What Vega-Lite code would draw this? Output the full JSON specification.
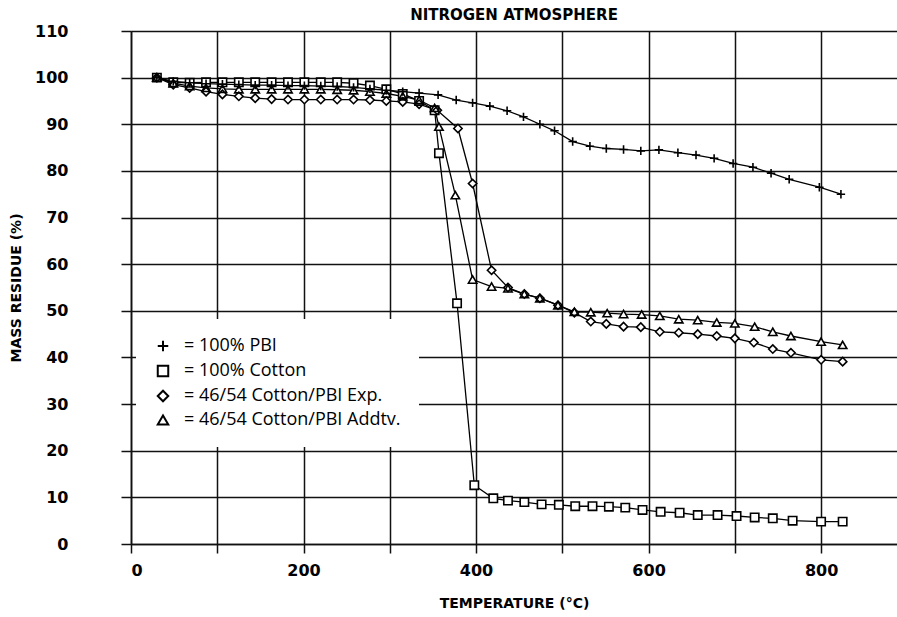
{
  "$schema": "https://vega.github.io/schema/vega-lite/v6.json",
  "width": 766,
  "height": 513,
  "autosize": "none",
  "padding": {"left": 131, "top": 31, "right": 0, "bottom": 73},
  "background": "white",
  "title": {"text": "NITROGEN ATMOSPHERE", "font": "DejaVu Sans", "fontSize": 15, "fontWeight": "bold", "color": "black", "anchor": "middle", "offset": 0},
  "config": {"view": {"stroke": null}},
  "datasets": {
    "tga": [
      {"series": "100% PBI", "temp": 30, "mass": 100},
      {"series": "100% PBI", "temp": 49, "mass": 99.2},
      {"series": "100% PBI", "temp": 68, "mass": 98.9},
      {"series": "100% PBI", "temp": 87, "mass": 98.7},
      {"series": "100% PBI", "temp": 106, "mass": 98.6},
      {"series": "100% PBI", "temp": 125, "mass": 98.5},
      {"series": "100% PBI", "temp": 144, "mass": 98.4},
      {"series": "100% PBI", "temp": 163, "mass": 98.4},
      {"series": "100% PBI", "temp": 182, "mass": 98.3},
      {"series": "100% PBI", "temp": 201, "mass": 98.3},
      {"series": "100% PBI", "temp": 220, "mass": 98.2},
      {"series": "100% PBI", "temp": 239, "mass": 98.1},
      {"series": "100% PBI", "temp": 258, "mass": 97.9},
      {"series": "100% PBI", "temp": 277, "mass": 97.6},
      {"series": "100% PBI", "temp": 296, "mass": 97.3},
      {"series": "100% PBI", "temp": 315, "mass": 97.0},
      {"series": "100% PBI", "temp": 334, "mass": 96.7},
      {"series": "100% PBI", "temp": 356, "mass": 96.3},
      {"series": "100% PBI", "temp": 377, "mass": 95.2},
      {"series": "100% PBI", "temp": 396, "mass": 94.6},
      {"series": "100% PBI", "temp": 416, "mass": 93.9},
      {"series": "100% PBI", "temp": 436, "mass": 92.9},
      {"series": "100% PBI", "temp": 455, "mass": 91.6},
      {"series": "100% PBI", "temp": 474, "mass": 90.0},
      {"series": "100% PBI", "temp": 491, "mass": 88.6},
      {"series": "100% PBI", "temp": 512, "mass": 86.3},
      {"series": "100% PBI", "temp": 532, "mass": 85.3},
      {"series": "100% PBI", "temp": 551, "mass": 84.8},
      {"series": "100% PBI", "temp": 571, "mass": 84.6},
      {"series": "100% PBI", "temp": 591, "mass": 84.3},
      {"series": "100% PBI", "temp": 612, "mass": 84.5},
      {"series": "100% PBI", "temp": 634, "mass": 83.9},
      {"series": "100% PBI", "temp": 655, "mass": 83.4},
      {"series": "100% PBI", "temp": 676, "mass": 82.7},
      {"series": "100% PBI", "temp": 698, "mass": 81.6},
      {"series": "100% PBI", "temp": 721, "mass": 80.8},
      {"series": "100% PBI", "temp": 742, "mass": 79.5},
      {"series": "100% PBI", "temp": 763, "mass": 78.2},
      {"series": "100% PBI", "temp": 798, "mass": 76.5},
      {"series": "100% PBI", "temp": 823, "mass": 75.0},

      {"series": "100% Cotton", "temp": 30, "mass": 100},
      {"series": "100% Cotton", "temp": 49, "mass": 99.0},
      {"series": "100% Cotton", "temp": 68, "mass": 98.9},
      {"series": "100% Cotton", "temp": 87, "mass": 99.0},
      {"series": "100% Cotton", "temp": 106, "mass": 99.0},
      {"series": "100% Cotton", "temp": 125, "mass": 99.0},
      {"series": "100% Cotton", "temp": 144, "mass": 99.0},
      {"series": "100% Cotton", "temp": 163, "mass": 99.0},
      {"series": "100% Cotton", "temp": 182, "mass": 99.0},
      {"series": "100% Cotton", "temp": 201, "mass": 99.0},
      {"series": "100% Cotton", "temp": 220, "mass": 99.0},
      {"series": "100% Cotton", "temp": 239, "mass": 99.0},
      {"series": "100% Cotton", "temp": 258, "mass": 98.8},
      {"series": "100% Cotton", "temp": 277, "mass": 98.3},
      {"series": "100% Cotton", "temp": 296, "mass": 97.5},
      {"series": "100% Cotton", "temp": 315, "mass": 96.5},
      {"series": "100% Cotton", "temp": 334, "mass": 95.0},
      {"series": "100% Cotton", "temp": 352, "mass": 93.0},
      {"series": "100% Cotton", "temp": 357, "mass": 83.8},
      {"series": "100% Cotton", "temp": 378, "mass": 51.6},
      {"series": "100% Cotton", "temp": 398, "mass": 12.6},
      {"series": "100% Cotton", "temp": 420, "mass": 9.8},
      {"series": "100% Cotton", "temp": 437, "mass": 9.3},
      {"series": "100% Cotton", "temp": 456, "mass": 9.0},
      {"series": "100% Cotton", "temp": 476, "mass": 8.5},
      {"series": "100% Cotton", "temp": 496, "mass": 8.4},
      {"series": "100% Cotton", "temp": 515, "mass": 8.1},
      {"series": "100% Cotton", "temp": 535, "mass": 8.1},
      {"series": "100% Cotton", "temp": 554, "mass": 8.0},
      {"series": "100% Cotton", "temp": 573, "mass": 7.8},
      {"series": "100% Cotton", "temp": 593, "mass": 7.3},
      {"series": "100% Cotton", "temp": 614, "mass": 6.9},
      {"series": "100% Cotton", "temp": 636, "mass": 6.7},
      {"series": "100% Cotton", "temp": 657, "mass": 6.2},
      {"series": "100% Cotton", "temp": 680, "mass": 6.2},
      {"series": "100% Cotton", "temp": 702, "mass": 6.0},
      {"series": "100% Cotton", "temp": 723, "mass": 5.7},
      {"series": "100% Cotton", "temp": 744, "mass": 5.5},
      {"series": "100% Cotton", "temp": 767, "mass": 5.0},
      {"series": "100% Cotton", "temp": 800, "mass": 4.8},
      {"series": "100% Cotton", "temp": 825, "mass": 4.8},

      {"series": "46/54 Cotton/PBI Exp.", "temp": 30, "mass": 100},
      {"series": "46/54 Cotton/PBI Exp.", "temp": 49, "mass": 98.5},
      {"series": "46/54 Cotton/PBI Exp.", "temp": 68, "mass": 97.8},
      {"series": "46/54 Cotton/PBI Exp.", "temp": 87, "mass": 97.0},
      {"series": "46/54 Cotton/PBI Exp.", "temp": 106, "mass": 96.4},
      {"series": "46/54 Cotton/PBI Exp.", "temp": 125, "mass": 96.0},
      {"series": "46/54 Cotton/PBI Exp.", "temp": 144, "mass": 95.6},
      {"series": "46/54 Cotton/PBI Exp.", "temp": 163, "mass": 95.4},
      {"series": "46/54 Cotton/PBI Exp.", "temp": 182, "mass": 95.3},
      {"series": "46/54 Cotton/PBI Exp.", "temp": 201, "mass": 95.3},
      {"series": "46/54 Cotton/PBI Exp.", "temp": 220, "mass": 95.3},
      {"series": "46/54 Cotton/PBI Exp.", "temp": 239, "mass": 95.3},
      {"series": "46/54 Cotton/PBI Exp.", "temp": 258, "mass": 95.3},
      {"series": "46/54 Cotton/PBI Exp.", "temp": 277, "mass": 95.2},
      {"series": "46/54 Cotton/PBI Exp.", "temp": 296, "mass": 95.0},
      {"series": "46/54 Cotton/PBI Exp.", "temp": 315, "mass": 94.8},
      {"series": "46/54 Cotton/PBI Exp.", "temp": 334, "mass": 94.3},
      {"series": "46/54 Cotton/PBI Exp.", "temp": 355, "mass": 93.0},
      {"series": "46/54 Cotton/PBI Exp.", "temp": 379, "mass": 89.1},
      {"series": "46/54 Cotton/PBI Exp.", "temp": 396, "mass": 77.3},
      {"series": "46/54 Cotton/PBI Exp.", "temp": 418, "mass": 58.7},
      {"series": "46/54 Cotton/PBI Exp.", "temp": 437, "mass": 55.0},
      {"series": "46/54 Cotton/PBI Exp.", "temp": 456, "mass": 53.6},
      {"series": "46/54 Cotton/PBI Exp.", "temp": 474, "mass": 52.7},
      {"series": "46/54 Cotton/PBI Exp.", "temp": 495, "mass": 51.2},
      {"series": "46/54 Cotton/PBI Exp.", "temp": 514, "mass": 49.6},
      {"series": "46/54 Cotton/PBI Exp.", "temp": 533, "mass": 47.7},
      {"series": "46/54 Cotton/PBI Exp.", "temp": 551, "mass": 47.2},
      {"series": "46/54 Cotton/PBI Exp.", "temp": 571, "mass": 46.6},
      {"series": "46/54 Cotton/PBI Exp.", "temp": 591, "mass": 46.5},
      {"series": "46/54 Cotton/PBI Exp.", "temp": 613, "mass": 45.5},
      {"series": "46/54 Cotton/PBI Exp.", "temp": 635, "mass": 45.3},
      {"series": "46/54 Cotton/PBI Exp.", "temp": 657, "mass": 45.0},
      {"series": "46/54 Cotton/PBI Exp.", "temp": 679, "mass": 44.6},
      {"series": "46/54 Cotton/PBI Exp.", "temp": 700, "mass": 44.1},
      {"series": "46/54 Cotton/PBI Exp.", "temp": 722, "mass": 43.2},
      {"series": "46/54 Cotton/PBI Exp.", "temp": 744, "mass": 41.8},
      {"series": "46/54 Cotton/PBI Exp.", "temp": 765, "mass": 41.0},
      {"series": "46/54 Cotton/PBI Exp.", "temp": 800, "mass": 39.5},
      {"series": "46/54 Cotton/PBI Exp.", "temp": 825, "mass": 39.1},

      {"series": "46/54 Cotton/PBI Addtv.", "temp": 30, "mass": 100},
      {"series": "46/54 Cotton/PBI Addtv.", "temp": 49, "mass": 98.8},
      {"series": "46/54 Cotton/PBI Addtv.", "temp": 68, "mass": 98.2},
      {"series": "46/54 Cotton/PBI Addtv.", "temp": 87, "mass": 97.8},
      {"series": "46/54 Cotton/PBI Addtv.", "temp": 106, "mass": 97.6},
      {"series": "46/54 Cotton/PBI Addtv.", "temp": 125, "mass": 97.5},
      {"series": "46/54 Cotton/PBI Addtv.", "temp": 144, "mass": 97.5},
      {"series": "46/54 Cotton/PBI Addtv.", "temp": 163, "mass": 97.5},
      {"series": "46/54 Cotton/PBI Addtv.", "temp": 182, "mass": 97.5},
      {"series": "46/54 Cotton/PBI Addtv.", "temp": 201, "mass": 97.5},
      {"series": "46/54 Cotton/PBI Addtv.", "temp": 220, "mass": 97.5},
      {"series": "46/54 Cotton/PBI Addtv.", "temp": 239, "mass": 97.4},
      {"series": "46/54 Cotton/PBI Addtv.", "temp": 258, "mass": 97.3},
      {"series": "46/54 Cotton/PBI Addtv.", "temp": 277, "mass": 97.0},
      {"series": "46/54 Cotton/PBI Addtv.", "temp": 296, "mass": 96.6},
      {"series": "46/54 Cotton/PBI Addtv.", "temp": 315, "mass": 96.0},
      {"series": "46/54 Cotton/PBI Addtv.", "temp": 334, "mass": 95.2},
      {"series": "46/54 Cotton/PBI Addtv.", "temp": 352, "mass": 93.5},
      {"series": "46/54 Cotton/PBI Addtv.", "temp": 357, "mass": 89.5},
      {"series": "46/54 Cotton/PBI Addtv.", "temp": 376, "mass": 74.8},
      {"series": "46/54 Cotton/PBI Addtv.", "temp": 396, "mass": 56.7},
      {"series": "46/54 Cotton/PBI Addtv.", "temp": 418, "mass": 55.2},
      {"series": "46/54 Cotton/PBI Addtv.", "temp": 437, "mass": 54.8},
      {"series": "46/54 Cotton/PBI Addtv.", "temp": 456, "mass": 53.6},
      {"series": "46/54 Cotton/PBI Addtv.", "temp": 474, "mass": 52.7},
      {"series": "46/54 Cotton/PBI Addtv.", "temp": 495, "mass": 51.2},
      {"series": "46/54 Cotton/PBI Addtv.", "temp": 514, "mass": 49.8},
      {"series": "46/54 Cotton/PBI Addtv.", "temp": 533, "mass": 49.7},
      {"series": "46/54 Cotton/PBI Addtv.", "temp": 552, "mass": 49.5},
      {"series": "46/54 Cotton/PBI Addtv.", "temp": 571, "mass": 49.3},
      {"series": "46/54 Cotton/PBI Addtv.", "temp": 592, "mass": 49.2},
      {"series": "46/54 Cotton/PBI Addtv.", "temp": 613, "mass": 48.9},
      {"series": "46/54 Cotton/PBI Addtv.", "temp": 635, "mass": 48.2},
      {"series": "46/54 Cotton/PBI Addtv.", "temp": 657, "mass": 48.0},
      {"series": "46/54 Cotton/PBI Addtv.", "temp": 679, "mass": 47.5},
      {"series": "46/54 Cotton/PBI Addtv.", "temp": 700, "mass": 47.3},
      {"series": "46/54 Cotton/PBI Addtv.", "temp": 723, "mass": 46.6},
      {"series": "46/54 Cotton/PBI Addtv.", "temp": 744, "mass": 45.5},
      {"series": "46/54 Cotton/PBI Addtv.", "temp": 765, "mass": 44.6},
      {"series": "46/54 Cotton/PBI Addtv.", "temp": 800, "mass": 43.4},
      {"series": "46/54 Cotton/PBI Addtv.", "temp": 825, "mass": 42.7}
    ]
  },
  "data": {"name": "tga"},
  "encoding": {
    "x": {
      "field": "temp", "type": "quantitative",
      "scale": {"domain": [0, 888], "nice": false, "zero": false},
      "axis": {
        "title": "TEMPERATURE (°C)",
        "values": [0, 100, 200, 300, 400, 500, 600, 700, 800],
        "labelExpr": "datum.value % 200 === 0 ? datum.label : ''",
        "grid": true, "gridColor": "#111111", "gridWidth": 1.5, "gridOpacity": 1,
        "domainColor": "#111111", "domainWidth": 1.6,
        "tickColor": "#111111", "tickWidth": 1.5, "tickSize": 9,
        "labelFont": "DejaVu Sans", "labelFontWeight": "bold", "labelFontSize": 16, "labelColor": "black",
        "labelPadding": 9,
        "titleFont": "DejaVu Sans", "titleFontWeight": "bold", "titleFontSize": 14, "titleColor": "black",
        "titlePadding": 18
      }
    },
    "y": {
      "field": "mass", "type": "quantitative",
      "scale": {"domain": [0, 110], "nice": false},
      "axis": {
        "title": "MASS RESIDUE (%)",
        "values": [0, 10, 20, 30, 40, 50, 60, 70, 80, 90, 100, 110],
        "grid": true, "gridColor": "#111111", "gridWidth": 1.5, "gridOpacity": 1,
        "domainColor": "#111111", "domainWidth": 1.6,
        "tickColor": "#111111", "tickWidth": 1.5, "tickSize": 10,
        "labelFont": "DejaVu Sans", "labelFontWeight": "bold", "labelFontSize": 16, "labelColor": "black",
        "labelPadding": 53,
        "titleFont": "DejaVu Sans", "titleFontWeight": "bold", "titleFontSize": 14, "titleColor": "black",
        "titlePadding": 11
      }
    }
  },
  "resolve": {"legend": {"shape": "independent"}},
  "layer": [
    {
      "mark": {"type": "line", "color": "black", "strokeWidth": 1.3},
      "encoding": {"detail": {"field": "series"}}
    },
    {
      "mark": {"type": "point", "filled": true, "color": "white", "size": 70, "opacity": 1},
      "encoding": {
        "shape": {"field": "series", "type": "nominal", "legend": null}
      }
    },
    {
      "mark": {"type": "point", "filled": false, "color": "black", "strokeWidth": 1.6, "size": 70, "opacity": 1},
      "encoding": {
        "shape": {
          "field": "series", "type": "nominal",
          "scale": {
            "domain": ["100% PBI", "100% Cotton", "46/54 Cotton/PBI Exp.", "46/54 Cotton/PBI Addtv."],
            "range": ["M-1,0H1M0,-1V1", "square", "diamond", "triangle-up"]
          },
          "legend": {
            "title": null,
            "orient": "none",
            "legendX": 5,
            "legendY": 288,
            "fillColor": "white",
            "padding": 18,
            "labelExpr": "'= ' + datum.label",
            "labelFont": "Open Sans",
            "labelFontSize": 18,
            "labelColor": "black",
            "labelLimit": 500,
            "labelOffset": 12,
            "symbolSize": 110,
            "symbolStrokeWidth": 2,
            "symbolStrokeColor": "black",
            "rowPadding": 5
          }
        }
      }
    }
  ]
}
